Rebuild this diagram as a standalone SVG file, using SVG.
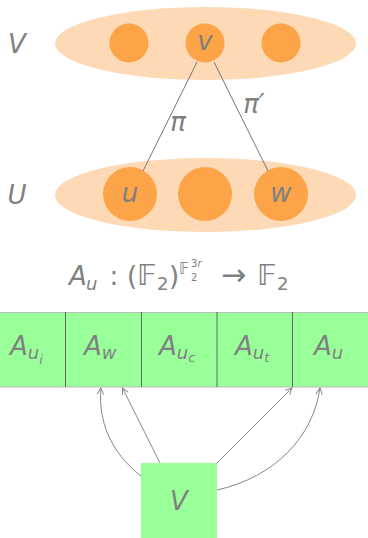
<svg xmlns="http://www.w3.org/2000/svg" width="368" height="538" viewBox="0 0 368 538">
<defs>
<style>
.set{fill:#fed9b5;}
.dot{fill:#fca447;}
.t{font-family:"DejaVu Sans","Liberation Sans",sans-serif;font-style:italic;fill:#808080;font-size:26px;}
.r{font-style:normal;}
.box{fill:#99ff99;}
.div{stroke:#666;stroke-width:1;}
.edge{stroke:#777;stroke-width:1;fill:none;}
.arr{stroke:#888;stroke-width:1;fill:none;marker-end:url(#ah);}
</style>
<marker id="ah" viewBox="0 0 10 10" refX="9" refY="5" markerWidth="8" markerHeight="8" orient="auto" markerUnits="userSpaceOnUse">
<path d="M1,1 L9,5 L1,9" fill="none" stroke="#888" stroke-width="1.2"/>
</marker>
</defs>
<g id="setV">
<ellipse class="set" cx="205.5" cy="43.5" rx="150.5" ry="36.5"/>
<text class="t" x="17" y="53" text-anchor="middle">V</text>
</g>
<g id="setU">
<ellipse class="set" cx="205.5" cy="195" rx="150.5" ry="37"/>
<text class="t" x="17" y="204" text-anchor="middle">U</text>
</g>
<g id="v1"><circle class="dot" cx="129" cy="43" r="19.5"/></g>
<g id="v"><circle class="dot" cx="205" cy="43" r="19.5"/><text class="t" x="205" y="50" text-anchor="middle" font-size="22">v</text></g>
<g id="v3"><circle class="dot" cx="281" cy="43" r="19.5"/></g>
<g id="u"><circle class="dot" cx="130" cy="194" r="27"/><text class="t" x="130" y="202" text-anchor="middle" font-size="22">u</text></g>
<g id="u2"><circle class="dot" cx="205" cy="194" r="27"/></g>
<g id="w"><circle class="dot" cx="281" cy="194" r="27"/><text class="t" x="281" y="202" text-anchor="middle" font-size="22">w</text></g>
<g id="edges">
<line class="edge" x1="197" y1="62" x2="143" y2="171"/>
<line class="edge" x1="214" y1="62" x2="268" y2="171"/>
<text class="t" x="178" y="131" text-anchor="middle" font-size="24">π</text>
<text class="t" x="254" y="113" text-anchor="middle" font-size="24">π′</text>
</g>
<g id="formula">
<text class="t"><tspan x="69" y="285">A</tspan><tspan x="86" y="290" font-size="18">u</tspan><tspan class="r" x="109.5" y="285">:</tspan><tspan class="r" x="127" y="285">(</tspan><tspan class="r" x="137" y="285" font-size="29">𝔽</tspan><tspan class="r" x="157" y="290" font-size="18">2</tspan><tspan class="r" x="169" y="285">)</tspan><tspan class="r" x="179" y="274" font-size="15">𝔽</tspan><tspan class="r" x="191" y="281" font-size="10">2</tspan><tspan class="r" x="191" y="267" font-size="10">3</tspan><tspan x="197.5" y="267" font-size="10">r</tspan><tspan class="r" x="221" y="285" font-size="30">→</tspan><tspan class="r" x="257" y="285" font-size="29">𝔽</tspan><tspan class="r" x="277" y="290" font-size="18">2</tspan></text>
</g>
<g id="row">
<rect class="box" x="0" y="312" width="368" height="75"/>
<line x1="0" y1="312.5" x2="368" y2="312.5" stroke="#bbb" stroke-width="1"/>
<line x1="0" y1="387" x2="368" y2="387" stroke="#bbb" stroke-width="1"/>
<line class="div" x1="65.5" y1="312" x2="65.5" y2="387"/>
<line class="div" x1="141.5" y1="312" x2="141.5" y2="387"/>
<line class="div" x1="217" y1="312" x2="217" y2="387"/>
<line class="div" x1="292.5" y1="312" x2="292.5" y2="387"/>
</g>
<g id="Aui"><text class="t" x="10" y="355">A<tspan font-size="18" dy="4">u</tspan><tspan font-size="13" dy="5">i</tspan></text></g>
<g id="Aw"><text class="t" x="84" y="355">A<tspan font-size="18" dy="4">w</tspan></text></g>
<g id="Auc"><text class="t" x="159" y="355">A<tspan font-size="18" dy="4">u</tspan><tspan font-size="13" dy="3">c</tspan></text></g>
<g id="Aut"><text class="t" x="235" y="355">A<tspan font-size="18" dy="4">u</tspan><tspan font-size="13" dy="3">t</tspan></text></g>
<g id="Au"><text class="t" x="314" y="355">A<tspan font-size="18" dy="4">u</tspan></text></g>
<g id="Vbox">
<rect class="box" x="141" y="463" width="76" height="75"/>
<text class="t" x="179" y="510" text-anchor="middle">V</text>
</g>
<g id="connectors">
<path class="arr" d="M141,476 C110,452 98,420 101,388"/>
<line class="arr" x1="160" y1="463" x2="122.5" y2="388"/>
<line class="arr" x1="217" y1="463" x2="292" y2="388"/>
<path class="arr" d="M217,490 C275,477 313,437 320,388"/>
</g>
</svg>
